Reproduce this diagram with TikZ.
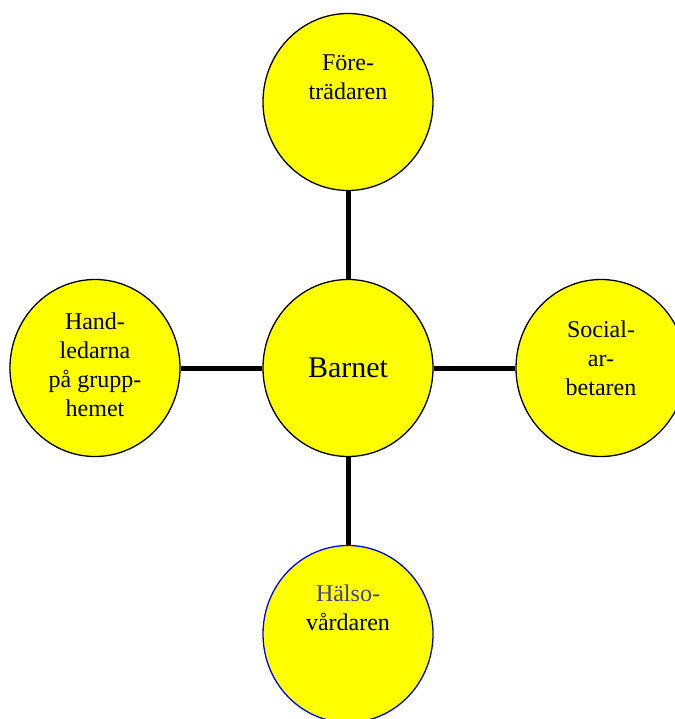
\documentclass[tikz,border=0pt]{standalone}
\usepackage{fontspec}
\setmainfont{Liberation Serif}
\usetikzlibrary{shapes.geometric,positioning}
\definecolor{halsoblue}{HTML}{483D8B}
\definecolor{fillyellow}{HTML}{FFFF00}

\begin{document}
\begin{tikzpicture}[x=1pt,y=-1pt,
    person/.style={ellipse,draw=black,line width=1.3pt,fill=fillyellow,minimum width=170pt,minimum height=177pt,inner sep=0pt},
    txt/.style={align=center,font=\fontsize{24}{29}\selectfont},
    link/.style={line width=5pt},
    node distance = 266pt and 253pt, on grid]
          \useasboundingbox (0,0) rectangle (674,719);
          \node[person](barnet)  at (348,368)        {};
          \node[person](fore)    [above = of barnet] {};
          \node[person](halso)   [below = of barnet, draw=blue] {};
          \node[person](hand)    [left = of barnet]  {};
          \node[person](social)  [right = of barnet] {};
          \path[link]
            (barnet) edge (fore)
            (barnet) edge (halso)
            (barnet) edge (hand)
            (barnet) edge (social)
            ;
          \node[txt,font=\fontsize{30}{36}\selectfont](barnet-t) at (barnet.center)                 {Barnet};
          \node[txt](fore-t)   at ([yshift=25pt]fore.center)   {Före-\\trädaren};
          \node[txt](halso-t)  at ([yshift=26pt]halso.center)  {\textcolor{halsoblue}{Hälso-}\\vårdaren};
          \node[txt](hand-t)   at ([yshift=3pt]hand.center)    {Hand-\\ledarna\\på grupp-\\hemet};
          \node[txt](social-t) at ([yshift=10pt]social.center) {Social-\\ar-\\betaren};
        \end{tikzpicture}
\end{document}
